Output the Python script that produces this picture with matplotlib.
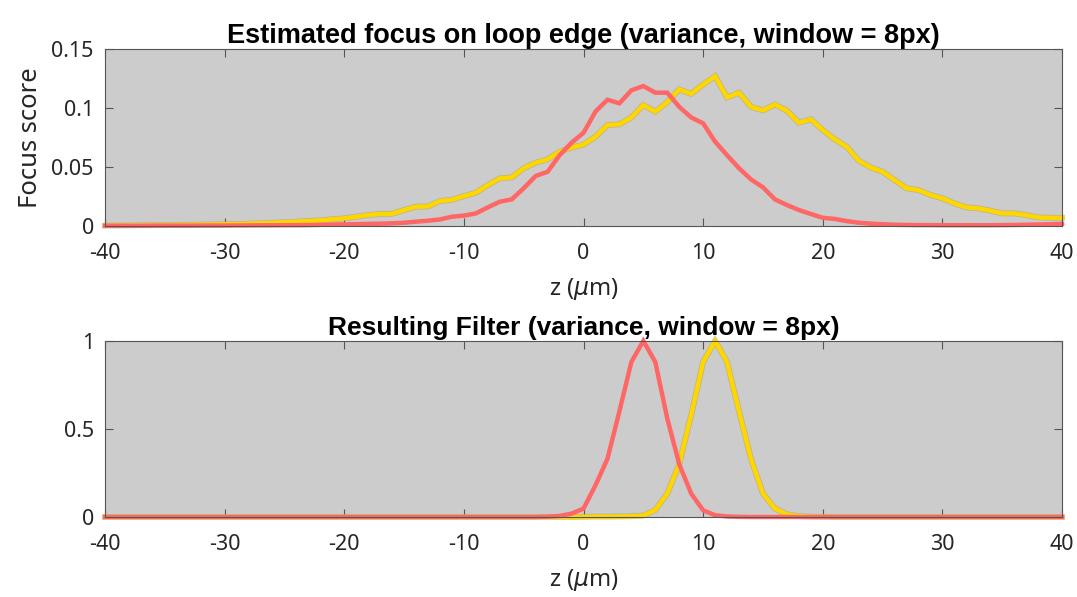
import matplotlib
matplotlib.use("Agg")
import matplotlib.pyplot as plt
import matplotlib.patheffects as pe

z = list(range(-40, 41))

# focus score per z slice, yellow and red channels
focus_yellow = [
    0.0003, 0.0004, 0.0005, 0.0006, 0.0007, 0.0008, 0.0009, 0.0010, 0.0012, 0.0013,
    0.0015, 0.0017, 0.0020, 0.0023, 0.0027, 0.0032, 0.0037, 0.0042, 0.0048, 0.0057,
    0.0065, 0.0079, 0.0093, 0.0102, 0.0104, 0.0136, 0.0164, 0.0166, 0.0212, 0.0222,
    0.0254, 0.0282, 0.0347, 0.0404, 0.0412, 0.0490, 0.0537, 0.0565, 0.0630, 0.0665,
    0.0690, 0.0757, 0.0856, 0.0862, 0.0920, 0.1025, 0.0969, 0.1050, 0.1158, 0.1120,
    0.1200, 0.1270, 0.1090, 0.1130, 0.1010, 0.0980, 0.1030, 0.0977, 0.0876, 0.0904,
    0.0814, 0.0734, 0.0672, 0.0554, 0.0497, 0.0460, 0.0390, 0.0320, 0.0305, 0.0263,
    0.0235, 0.0192, 0.0158, 0.0150, 0.0130, 0.0107, 0.0107, 0.0093, 0.0073, 0.0070,
    0.0070,
]
focus_red = [
    0.0002, 0.0002, 0.0002, 0.0002, 0.0003, 0.0003, 0.0003, 0.0003, 0.0004, 0.0004,
    0.0004, 0.0005, 0.0005, 0.0006, 0.0006, 0.0007, 0.0007, 0.0008, 0.0010, 0.0012,
    0.0014, 0.0016, 0.0018, 0.0020, 0.0023, 0.0028, 0.0037, 0.0045, 0.0056, 0.0079,
    0.0088, 0.0107, 0.0158, 0.0206, 0.0226, 0.0320, 0.0424, 0.0460, 0.0600, 0.0706,
    0.0790, 0.0970, 0.1070, 0.1040, 0.1150, 0.1186, 0.1130, 0.1130, 0.1010, 0.0920,
    0.0870, 0.0715, 0.0600, 0.0490, 0.0395, 0.0328, 0.0226, 0.0178, 0.0136, 0.0102,
    0.0070, 0.0060, 0.0042, 0.0028, 0.0020, 0.0015, 0.0011, 0.0009, 0.0008, 0.0008,
    0.0007, 0.0007, 0.0007, 0.0007, 0.0007, 0.0008, 0.0009, 0.0011, 0.0013, 0.0015,
    0.0018,
]

# normalised filter weights
filter_yellow = [
    0, 0, 0, 0, 0, 0, 0, 0, 0, 0,
    0, 0, 0, 0, 0, 0, 0, 0, 0, 0,
    0, 0, 0, 0, 0, 0, 0, 0, 0, 0,
    0, 0, 0, 0, 0, 0, 0, 0, 0, 0,
    0.001, 0.002, 0.002, 0.003, 0.004, 0.008, 0.040, 0.133, 0.300, 0.580,
    0.880, 1.000, 0.880, 0.600, 0.330, 0.133, 0.048, 0.015, 0.005, 0.002,
    0.001, 0, 0, 0, 0, 0, 0, 0, 0, 0,
    0, 0, 0, 0, 0, 0, 0, 0, 0, 0,
    0,
]
filter_red = [
    0, 0, 0, 0, 0, 0, 0, 0, 0, 0,
    0, 0, 0, 0, 0, 0, 0, 0, 0, 0,
    0, 0, 0, 0, 0, 0, 0, 0, 0, 0,
    0, 0, 0, 0, 0, 0, 0, 0.002, 0.006, 0.019,
    0.048, 0.180, 0.330, 0.600, 0.880, 1.000, 0.880, 0.560, 0.300, 0.133,
    0.038, 0.010, 0.003, 0.001, 0, 0, 0, 0, 0, 0,
    0, 0, 0, 0, 0, 0, 0, 0, 0, 0,
    0, 0, 0, 0, 0, 0, 0, 0, 0, 0,
    0,
]

x_ticks = [-40, -30, -20, -10, 0, 10, 20, 30, 40]
x_ticklabels = ["-40", "-30", "-20", "-10", "0", "10", "20", "30", "40"]

YELLOW = "#ffd700"
RED = "#ff6666"
BG = "#cccccc"
TXT = "#262626"
EDGE = "#555555"

plt.rcParams["font.family"] = ["Noto Sans", "DejaVu Sans"]
plt.rcParams["mathtext.fontset"] = "dejavusans"

fig = plt.figure(figsize=(10.77, 5.97), dpi=100)
ax1 = fig.add_axes([0.0975, 0.6214, 0.8886, 0.2965])
ax2 = fig.add_axes([0.0975, 0.1340, 0.8886, 0.2950])

outline = [pe.Stroke(linewidth=4.2, foreground="#a89a55", alpha=0.5), pe.Normal()]


def style(ax, yticks, yticklabels, ylim, title, title_size):
    ax.set_facecolor(BG)
    ax.set_xlim(-40, 40)
    ax.set_ylim(*ylim)
    ax.set_xticks(x_ticks)
    ax.set_xticklabels(x_ticklabels)
    ax.set_yticks(yticks)
    ax.set_yticklabels(yticklabels)
    ax.tick_params(direction="in", length=6, width=0.8, color=EDGE,
                   top=True, right=True, labelsize=15.5, labelcolor=TXT)
    ax.tick_params(axis="x", pad=12)
    ax.tick_params(axis="y", pad=8)
    for s in ax.spines.values():
        s.set_color(EDGE)
        s.set_linewidth(0.8)
    ax.set_xlabel(r"z ($\mu$m)", fontsize=17, color=TXT, labelpad=9)
    ax.set_title(title, fontsize=title_size, fontweight="bold", family="Liberation Sans",
                 color="black", pad=4)


ax1.plot(z, focus_yellow, color=YELLOW, lw=3.2, path_effects=outline, solid_joinstyle="miter")
ax1.plot(z, focus_red, color=RED, lw=3.2, solid_joinstyle="miter")
style(ax1, [0, 0.05, 0.1, 0.15], ["0", "0.05", "0.1", "0.15"], (0, 0.15),
      "Estimated focus on loop edge (variance, window = 8px)", 19.5)
ax1.set_ylabel("Focus score", fontsize=18.5, color=TXT, labelpad=6)

ax2.plot(z, filter_yellow, color=YELLOW, lw=3.2, path_effects=outline, solid_joinstyle="miter")
ax2.plot(z, filter_red, color=RED, lw=3.2, solid_joinstyle="miter")
style(ax2, [0, 0.5, 1], ["0", "0.5", "1"], (0, 1),
      "Resulting Filter (variance, window = 8px)", 19)

for ax in (ax1, ax2):
    for line in ax.get_lines():
        line.set_clip_on(False)

fig.savefig("out.png", dpi=100, facecolor="white")
